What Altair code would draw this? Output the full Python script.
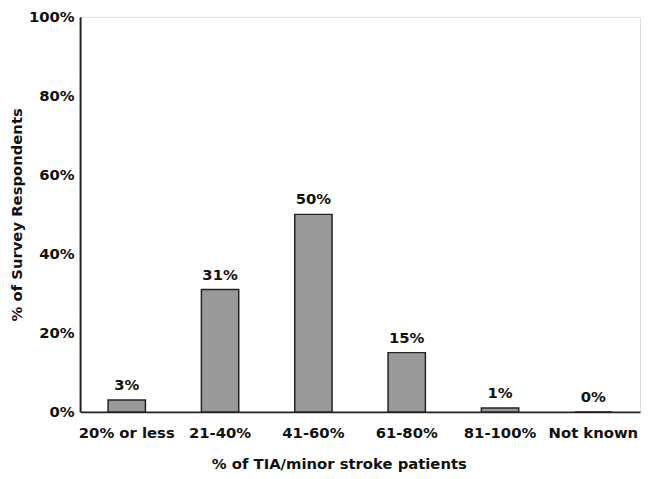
import altair as alt
import pandas as pd

categories = ["20% or less", "21-40%", "41-60%", "61-80%", "81-100%", "Not known"]
values = [3, 31, 50, 15, 1, 0]
labels = ["3%", "31%", "50%", "15%", "1%", "0%"]

df = pd.DataFrame({"cat": categories, "val": values, "lab": labels})

FONT = "DejaVu Sans"

x = alt.X("cat:N", sort=categories,
          scale=alt.Scale(paddingInner=0.6, paddingOuter=0.3),
          axis=alt.Axis(title="% of TIA/minor stroke patients", labelAngle=0,
                        ticks=False, labelPadding=14, labelFontSize=15,
                        labelFontWeight="bold", labelFont=FONT, labelColor="#111",
                        titleFont=FONT, titleFontSize=15, titleFontWeight="bold",
                        titleColor="#111", titlePadding=16, titleX=262,
                        domainColor="#222", domainWidth=2))
y = alt.Y("val:Q", scale=alt.Scale(domain=[0, 100], nice=False),
          axis=alt.Axis(title="% of Survey Respondents", values=[0, 20, 40, 60, 80, 100],
                        labelExpr="datum.value + '%'", ticks=False, grid=False,
                        labelPadding=6, labelFontSize=15, labelFontWeight="bold",
                        labelFont=FONT, labelColor="#111",
                        titleFont=FONT, titleFontSize=15, titleFontWeight="bold",
                        titleColor="#111", titlePadding=4,
                        domainColor="#222", domainWidth=2))

bars = alt.Chart(df).mark_bar(color="#999999", stroke="#222222", strokeWidth=1.5).encode(x=x, y=y)
text = alt.Chart(df).mark_text(dy=-15, fontSize=15, fontWeight="bold", font=FONT, color="#111").encode(
    x=alt.X("cat:N", sort=categories), y="val:Q", text="lab:N")

chart = (bars + text).properties(
    width=567, height=400,
    autosize=alt.AutoSizeParams(type="none"),
    padding={"left": 73, "top": 6, "right": 2, "bottom": 65},
).configure_view(stroke=None).configure(background="white")

chart.save("out.html", embed_options={"renderer": "svg", "actions": False})
